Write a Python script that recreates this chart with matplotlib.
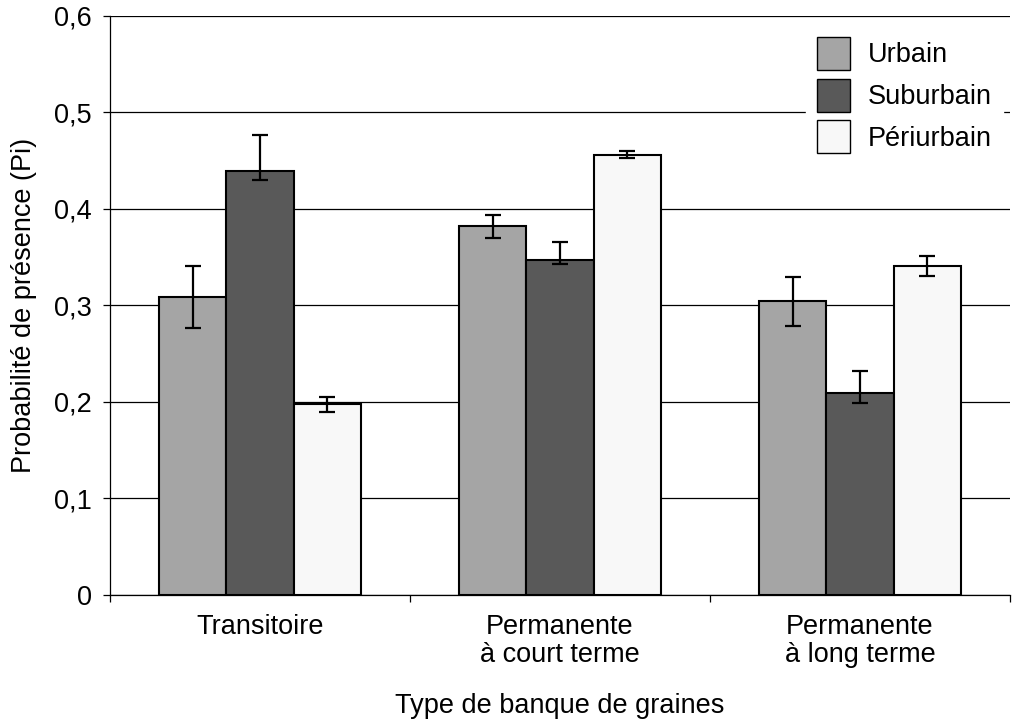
import numpy as np
import matplotlib.pyplot as plt

# Données
categories = ["Transitoire", "Permanente\nà court terme", "Permanente\nà long terme"]
series = ["Urbain", "Suburbain", "Périurbain"]
urbain = [0.309, 0.382, 0.305]
suburbain = [0.439, 0.347, 0.209]
periurbain = [0.198, 0.456, 0.341]
# erreurs (bas, haut)
err_urbain = [[0.032, 0.012, 0.026], [0.032, 0.012, 0.025]]
err_suburbain = [[0.009, 0.004, 0.010], [0.038, 0.019, 0.023]]
err_periurbain = [[0.008, 0.003, 0.010], [0.007, 0.004, 0.010]]
colors = ["#a5a5a5", "#595959", "#f8f8f8"]

plt.rcParams['font.family'] = ['Liberation Sans', 'DejaVu Sans']
fs = 19.5

fig = plt.figure(figsize=(10.13, 7.25), dpi=100)
ax = fig.add_axes([0.1086, 0.1793, 0.8884, 0.7987])

x = np.arange(len(categories))
width = 0.224
values = [urbain, suburbain, periurbain]
errors = [err_urbain, err_suburbain, err_periurbain]
for i in range(3):
    ax.bar(x + (i - 1) * width, values[i], width, color=colors[i], edgecolor="black",
           linewidth=1.5, label=series[i], zorder=3,
           yerr=errors[i], error_kw=dict(ecolor="black", elinewidth=1.6, capsize=6, capthick=1.6))

ax.set_xlim(-0.5, 2.5)
ax.set_ylim(0, 0.6)
ax.set_yticks([0, 0.1, 0.2, 0.3, 0.4, 0.5, 0.6])
ax.set_yticklabels(["0", "0,1", "0,2", "0,3", "0,4", "0,5", "0,6"], fontsize=fs)
ax.yaxis.grid(True, color="black", linewidth=0.9, zorder=0)
ax.set_axisbelow(True)

ax.set_xticks([-0.5, 0.5, 1.5, 2.5])
ax.set_xticklabels([])
ax.set_xticks(x, minor=True)
ax.set_xticklabels(categories, minor=True, fontsize=fs, linespacing=1.1)
ax.tick_params(axis="x", which="minor", length=0, pad=14)
ax.tick_params(axis="x", which="major", length=5, width=0.9, direction="out")
ax.tick_params(axis="y", length=5, width=0.9, direction="out", pad=8)

for s in ["top", "right"]:
    ax.spines[s].set_visible(False)
ax.spines["left"].set_linewidth(0.9)
ax.spines["bottom"].set_linewidth(0.9)

ax.set_ylabel("Probabilité de présence (Pi)", fontsize=fs, labelpad=12)
ax.set_xlabel("Type de banque de graines", fontsize=fs, labelpad=18)

leg = ax.legend(loc="upper left", bbox_to_anchor=(806 / 1013, 1 - 26 / 725),
                bbox_transform=fig.transFigure, fontsize=fs, frameon=True,
                handlelength=1.22, handleheight=1.5, labelspacing=0.32, handletextpad=0.67,
                borderaxespad=0, borderpad=0.4, fancybox=False)
leg.get_frame().set_edgecolor("white")
leg.get_frame().set_facecolor("white")
leg.get_frame().set_alpha(1)
for p in leg.get_patches():
    p.set_linewidth(1.0)

fig.savefig("out.png", dpi=100)
